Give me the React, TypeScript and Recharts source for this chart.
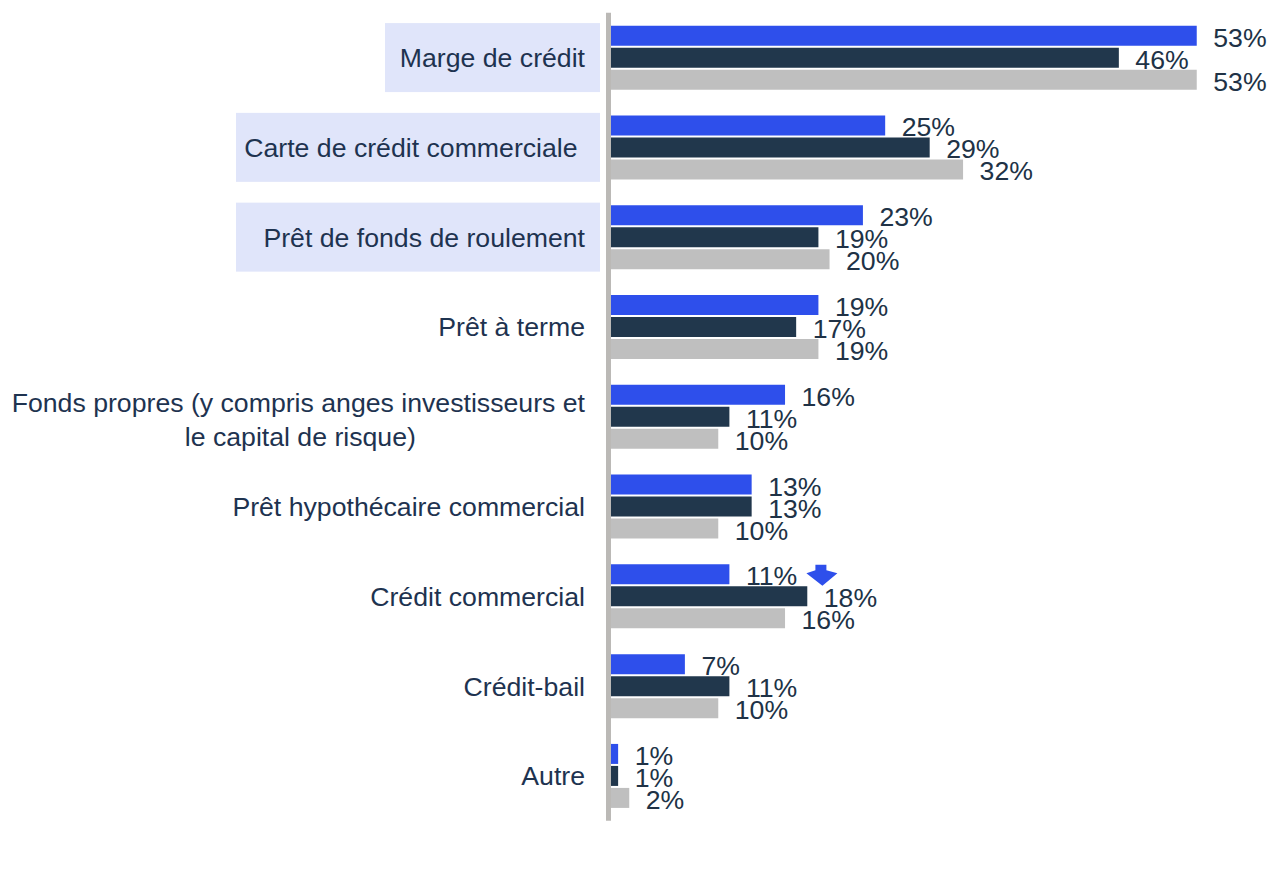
import { BarChart, Bar, XAxis, YAxis } from "recharts";

// categories, top to bottom ("\n" = forced line break in the label)
const categories = [
  "Marge de crédit",
  "Carte de crédit commerciale ",
  "Prêt de fonds de roulement",
  "Prêt à terme",
  "Fonds propres (y compris anges investisseurs et\nle capital de risque)",
  "Prêt hypothécaire commercial",
  "Crédit commercial",
  "Crédit-bail",
  "Autre",
];

// three survey waves, in %
const valeursBleu = [53, 25, 23, 19, 16, 13, 11, 7, 1];
const valeursMarine = [46, 29, 19, 17, 11, 13, 18, 11, 1];
const valeursGris = [53, 32, 20, 19, 10, 10, 16, 10, 2];

// labels shown on a shaded box, and the box width for each
const surlignes: Record<string, number> = {
  "Marge de crédit": 215,
  "Carte de crédit commerciale ": 364,
  "Prêt de fonds de roulement": 364,
};

// blue values flagged with a "significant drop" arrow
const baisses = ["Crédit commercial"];

const data = categories.map((name, i) => ({
  name,
  bleu: valeursBleu[i],
  marine: valeursMarine[i],
  gris: valeursGris[i],
}));

const FONT = "'Liberation Sans', Arial, sans-serif";
const FONT_SIZE = 26.67;
const TEXT_COLOR = "#1E3350";
const LABEL_COLOR = "#203246";
const BLEU = "#2E4FEB";
const MARINE = "#21374C";
const GRIS = "#BFBFBF";

let ctx: CanvasRenderingContext2D | null = null;
const textWidth = (s: string) => {
  if (!ctx) ctx = document.createElement("canvas").getContext("2d");
  if (!ctx) return s.length * 12;
  ctx.font = `${FONT_SIZE}px ${FONT}`;
  return ctx.measureText(s).width;
};

function CategoryTick(props: any) {
  const x = Number(props.x);
  const y = Number(props.y);
  const label: string = props.payload.value;
  const lines = label.split("\n");
  const box = surlignes[label];
  const common = { fontSize: FONT_SIZE, fontFamily: FONT, fill: TEXT_COLOR };

  return (
    <g>
      {box && <rect x={x + 15 - box} y={y - 34.5} width={box} height={69} fill="#E0E5FA" />}
      {lines.length === 1 ? (
        <text x={x} y={y + 9.5} textAnchor="end" xmlSpace="preserve" style={{ whiteSpace: "pre" }} {...common}>
          {label}
        </text>
      ) : (
        <>
          <text x={x} y={y - 4.5} textAnchor="end" {...common}>
            {lines[0]}
          </text>
          <text x={x - textWidth(lines[0]) / 2 + 2} y={y + 28.8} textAnchor="middle" {...common}>
            {lines[1]}
          </text>
        </>
      )}
    </g>
  );
}

const makeLabel = (flagged: string[] = []) => (props: any) => {
  const end = Number(props.x) + Number(props.width);
  const cy = Number(props.y) + Number(props.height) / 2;
  const showArrow = flagged.includes(categories[props.index]);
  return (
    <g>
      <text x={end + 16.5} y={cy + 11} fontSize={FONT_SIZE} fontFamily={FONT} fill={LABEL_COLOR}>
        {`${props.value}%`}
      </text>
      {showArrow && (
        <path
          d={`M${end + 86} ${cy - 9.5} L${end + 97} ${cy - 9.5} L${end + 97} ${cy - 4} L${end + 108} ${cy - 1}
              L${end + 93} ${cy + 11.5} L${end + 77} ${cy - 1} L${end + 86} ${cy - 4} Z`}
          fill={BLEU}
        />
      )}
    </g>
  );
};

export default function App() {
  return (
    <div style={{ position: "absolute", left: 0, top: 0, background: "#fff" }}>
      <BarChart
        width={1270}
        height={875}
        data={data}
        layout="vertical"
        margin={{ top: 12.7, right: 51, bottom: 54.3, left: 0 }}
        barSize={20}
        barGap={2}
      >
        <XAxis type="number" domain={[0, 55]} hide />
        <Bar dataKey="bleu" fill={BLEU} isAnimationActive={false} label={makeLabel(baisses)} />
        <Bar dataKey="marine" fill={MARINE} isAnimationActive={false} label={makeLabel()} />
        <Bar dataKey="gris" fill={GRIS} isAnimationActive={false} label={makeLabel()} />
        <YAxis
          type="category"
          dataKey="name"
          width={607}
          axisLine={{ stroke: "#BBB9B6", strokeWidth: 5, transform: "translate(1.5, 0)" }}
          tickLine={false}
          tickSize={0}
          tickMargin={22}
          interval={0}
          tick={CategoryTick}
        />
      </BarChart>
    </div>
  );
}
